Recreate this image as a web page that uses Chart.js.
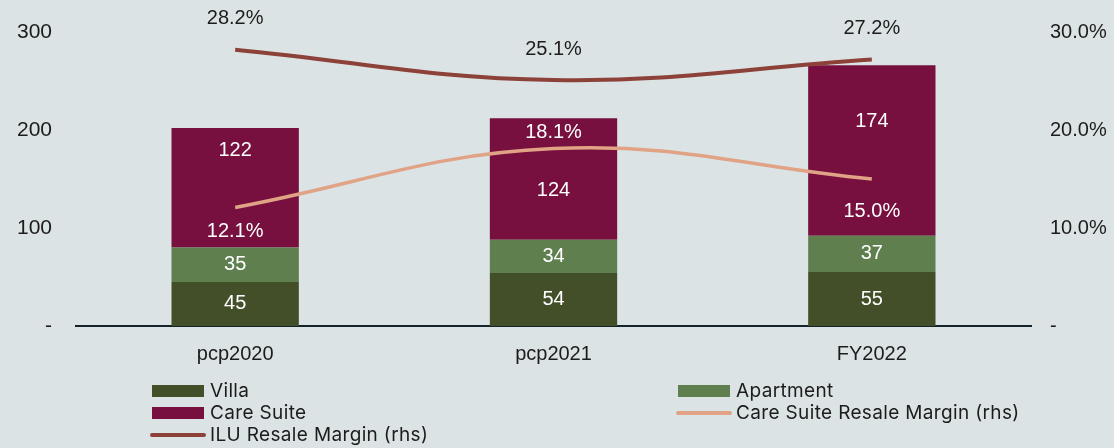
<!DOCTYPE html>
<html>
<head>
<meta charset="utf-8">
<script src="https://cdn.jsdelivr.net/npm/chart.js@4/dist/chart.umd.min.js"></script>
<style>
  html, body { margin: 0; padding: 0; background: #dce3e5; }
  #wrap { width: 1114px; height: 448px; }
</style>
</head>
<body>
<div id="wrap"><canvas id="myChart" width="1114" height="448"></canvas></div>
<script>
var categories = ['pcp2020', 'pcp2021', 'FY2022'];
var villa = [45, 54, 55];
var apartment = [35, 34, 37];
var careSuite = [122, 124, 174];
var careSuiteMargin = [12.1, 18.1, 15.0];
var iluMargin = [28.2, 25.1, 27.2];

var FONT = '"Liberation Sans", Arial, sans-serif';
var LEGEND_FONT = 'Inter, "Noto Sans", sans-serif';

// writes the numbers on bars and next to line points
var valueLabels = {
    id: 'valueLabels',
    afterDatasetsDraw: function (chart) {
        var ctx = chart.ctx;
        chart.data.datasets.forEach(function (ds, i) {
            var opt = ds.valueLabel;
            if (!opt) return;
            var meta = chart.getDatasetMeta(i);
            ctx.save();
            ctx.font = '20px ' + FONT;
            ctx.fillStyle = opt.color;
            ctx.textAlign = 'center';
            ctx.textBaseline = 'middle';
            meta.data.forEach(function (el, j) {
                var v = ds.data[j];
                var text = opt.format ? opt.format(v) : String(v);
                var shift = opt.shift ? opt.shift[j] : 0;
                var y = ds.type === 'line' ? el.y : (el.y + el.base) / 2;
                ctx.fillText(text, el.x, y + shift);
            });
            ctx.restore();
        });
    }
};

// two-column legend under the axis
var bottomLegend = {
    id: 'bottomLegend',
    afterDraw: function (chart) {
        var ctx = chart.ctx;
        var order = [0, 1, 2, 3, 4];
        var colX = [152, 678];
        var rowY = [391, 413, 435];
        ctx.save();
        ctx.font = '19px ' + LEGEND_FONT;
        ctx.letterSpacing = '0.35px';
        ctx.textBaseline = 'middle';
        order.forEach(function (di, k) {
            var ds = chart.data.datasets[di];
            var x = colX[k % 2];
            var y = rowY[Math.floor(k / 2)];
            if (ds.type === 'line') {
                ctx.strokeStyle = ds.borderColor;
                ctx.lineWidth = 4;
                ctx.lineCap = 'round';
                ctx.beginPath();
                ctx.moveTo(x, y);
                ctx.lineTo(x + 52, y);
                ctx.stroke();
            } else {
                ctx.fillStyle = ds.backgroundColor;
                ctx.fillRect(x, y - 6, 52, 12);
            }
            ctx.fillStyle = '#1c1c1c';
            ctx.fillText(ds.label, x + 58, y);
        });
        ctx.restore();
    }
};

// fixed axis widths; keep the tick padding from pushing the plot area down
function fixWidth(w) {
    return function (s) {
        s.width = w;
        s.paddingTop = 10;
        s.paddingBottom = 10;
    };
}

var ctx = document.getElementById('myChart').getContext('2d');
var chart = new Chart(ctx, {
    type: 'bar',
    data: {
        labels: categories,
        datasets: [
            {
                label: 'Villa',
                data: villa,
                backgroundColor: '#434f28',
                yAxisID: 'y',
                stack: 's',
                order: 2,
                valueLabel: { color: '#ffffff' }
            },
            {
                label: 'Apartment',
                data: apartment,
                backgroundColor: '#5f7f4f',
                yAxisID: 'y',
                stack: 's',
                order: 2,
                valueLabel: { color: '#ffffff' }
            },
            {
                label: 'Care Suite',
                data: careSuite,
                backgroundColor: '#77103e',
                yAxisID: 'y',
                stack: 's',
                order: 2,
                valueLabel: { color: '#ffffff', shift: [-37, 11, -29] }
            },
            {
                type: 'line',
                label: 'Care Suite Resale Margin (rhs)',
                data: careSuiteMargin,
                borderColor: '#e0a385',
                backgroundColor: '#e0a385',
                borderWidth: 3.5,
                tension: 0.4,
                pointRadius: 0,
                yAxisID: 'y1',
                order: 0,
                valueLabel: {
                    color: '#ffffff',
                    shift: [24, -16, 32],
                    format: function (v) { return v.toFixed(1) + '%'; }
                }
            },
            {
                type: 'line',
                label: 'ILU Resale Margin (rhs)',
                data: iluMargin,
                borderColor: '#8d4239',
                backgroundColor: '#8d4239',
                borderWidth: 4,
                tension: 0.4,
                pointRadius: 0,
                yAxisID: 'y1',
                order: 1,
                valueLabel: {
                    color: '#1c1c1c',
                    shift: [-31, -31, -31],
                    format: function (v) { return v.toFixed(1) + '%'; }
                }
            }
        ]
    },
    options: {
        responsive: false,
        animation: false,
        layout: {
            padding: { top: 32, bottom: 72, left: 0, right: 0 }
        },
        datasets: {
            bar: { barPercentage: 0.4, categoryPercentage: 1.0 }
        },
        plugins: {
            legend: { display: false },
            tooltip: { enabled: false }
        },
        scales: {
            x: {
                stacked: true,
                grid: { display: false, drawTicks: false },
                border: { display: true, color: '#13232c', width: 2 },
                ticks: {
                    color: '#1c1c1c',
                    font: { family: FONT, size: 20 },
                    padding: 16
                },
                afterFit: function (s) { s.height = 50; }
            },
            y: {
                position: 'left',
                stacked: true,
                min: 0,
                max: 300,
                grid: { display: false, drawTicks: false },
                border: { display: false },
                ticks: {
                    stepSize: 100,
                    color: '#1c1c1c',
                    font: { family: FONT, size: 21 },
                    padding: 24,
                    callback: function (v) { return v === 0 ? '-' : v; }
                },
                afterFit: fixWidth(76)
            },
            y1: {
                position: 'right',
                min: 0,
                max: 30,
                grid: { display: false, drawTicks: false },
                border: { display: false },
                ticks: {
                    stepSize: 10,
                    color: '#1c1c1c',
                    font: { family: FONT, size: 20 },
                    padding: 19,
                    callback: function (v) { return v === 0 ? '-' : v.toFixed(1) + '%'; }
                },
                afterFit: fixWidth(83)
            }
        }
    },
    plugins: [valueLabels, bottomLegend]
});
</script>
</body>
</html>
